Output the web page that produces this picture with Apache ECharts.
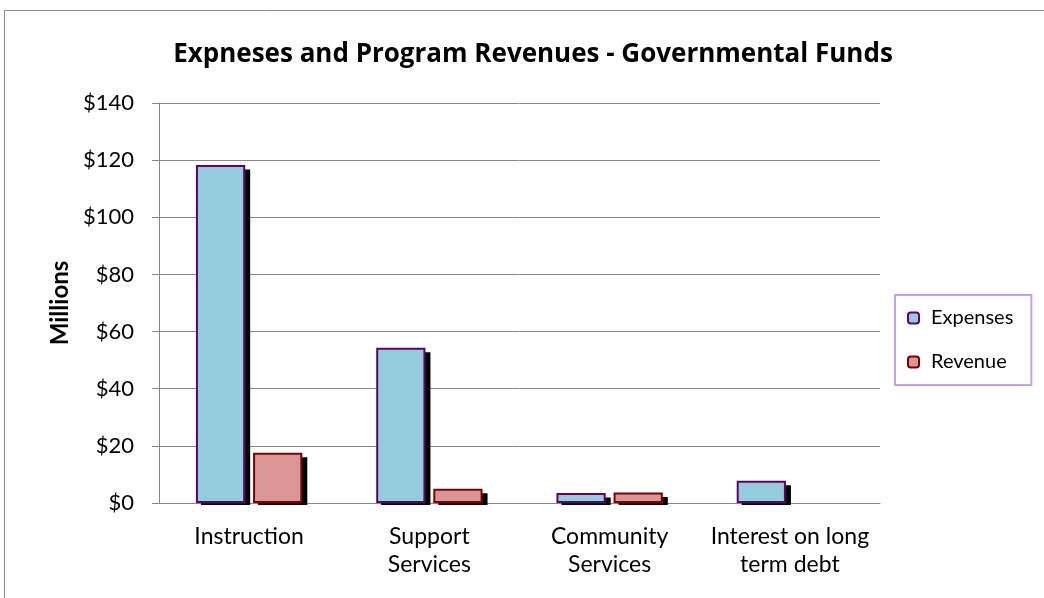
<!DOCTYPE html>
<html>
<head>
<meta charset="utf-8">
<script src="https://cdn.jsdelivr.net/npm/echarts@6/dist/echarts.min.js"></script>
<style>html,body{margin:0;padding:0;background:#fff}#c{width:1044px;height:598px}</style>
</head>
<body>
<div id="c"></div>
<script>
const categories = ['Instruction', 'Support\nServices', 'Community\nServices', 'Interest on long\nterm debt'];
const expenses = [118.3, 54.3, 3.5, 7.8];
const revenue = [17.6, 5.0, 3.7, null];
const yTicks = [0, 20, 40, 60, 80, 100, 120, 140];

const FONT = 'Lato, "Open Sans", sans-serif';
const CAT_GAP = 0.41, BAR_GAP = 0.16;

function shadowSeries(name, data, idx) {
  return {
    type: 'custom', name: name + ' shadow', z: 1, silent: true,
    data: data.map((v, i) => [i, v == null ? NaN : v]),
    renderItem: (params, api) => {
      const v = api.value(1);
      if (isNaN(v)) return null;
      const band = api.size([1, 0])[0];
      const w = band * (1 - CAT_GAP) / (2 + BAR_GAP);
      const gap = BAR_GAP * w;
      const base = api.coord([api.value(0), 0]);
      const topPt = api.coord([api.value(0), v]);
      const off = idx === 0 ? -(gap / 2 + w / 2) : (gap / 2 + w / 2);
      return {
        type: 'rect',
        shape: { x: base[0] + off - w / 2 + 5, y: topPt[1] + 4.5, width: w, height: base[1] - topPt[1] - 2.5 },
        style: { fill: '#000' }
      };
    }
  };
}

const chart = echarts.init(document.getElementById('c'));
chart.setOption({
  animation: false,
  backgroundColor: '#fff',
  textStyle: { fontFamily: FONT },
  graphic: [{
    type: 'rect', silent: true,
    shape: { x: 4.5, y: 10.5, width: 1200, height: 800 },
    style: { fill: 'none', stroke: '#8c8c8c', lineWidth: 1 }
  }],
  title: {
    text: 'Expneses and Program Revenues - Governmental Funds',
    left: 528, top: 37, textAlign: 'center',
    textStyle: { fontFamily: '"Open Sans", Lato, sans-serif', fontWeight: 'bold', fontSize: 26, color: '#000' }
  },
  legend: {
    orient: 'vertical', left: 895, top: 295,
    padding: [13, 18, 13, 12],
    itemGap: 24, itemWidth: 11, itemHeight: 11,
    borderColor: '#c9a0f0', borderWidth: 2,
    textStyle: { fontFamily: FONT, fontSize: 20, color: '#000', padding: [0, 0, 0, 7] },
    itemStyle: { borderWidth: 2 },
    data: ['Expenses', 'Revenue']
  },
  grid: { left: 159, right: 164, top: 103, bottom: 95, containLabel: false },
  xAxis: {
    type: 'category', data: categories,
    axisLine: { lineStyle: { color: '#868686', width: 1 } },
    axisTick: { show: false },
    axisLabel: { fontFamily: FONT, fontSize: 23, color: '#000', margin: 20, lineHeight: 28, interval: 0 }
  },
  yAxis: {
    type: 'value', min: 0, max: 140, interval: 20,
    name: 'Millions', nameLocation: 'middle', nameGap: 84, nameRotate: 90,
    nameTextStyle: { fontFamily: FONT, fontWeight: 'bold', fontSize: 24, color: '#000' },
    axisLine: { show: true, lineStyle: { color: '#868686' } },
    axisTick: { show: true, length: 7, lineStyle: { color: '#868686' } },
    splitLine: { lineStyle: { color: '#868686', width: 1 } },
    axisLabel: {
      fontFamily: FONT, fontSize: 22, color: '#000', margin: 25,
      formatter: v => yTicks.includes(v) ? '$' + v : ''
    }
  },
  series: [
    {
      name: 'Expenses', type: 'bar', data: expenses, z: 3,
      barGap: (BAR_GAP * 100) + '%', barCategoryGap: (CAT_GAP * 100) + '%',
      itemStyle: { color: '#93cddd', borderColor: '#660066', borderWidth: 2 }
    },
    {
      name: 'Revenue', type: 'bar', data: revenue, z: 3,
      itemStyle: { color: '#d99694', borderColor: '#7f0000', borderWidth: 2 }
    },
    shadowSeries('Expenses', expenses, 0),
    shadowSeries('Revenue', revenue, 1)
  ]
});
</script>
</body>
</html>
